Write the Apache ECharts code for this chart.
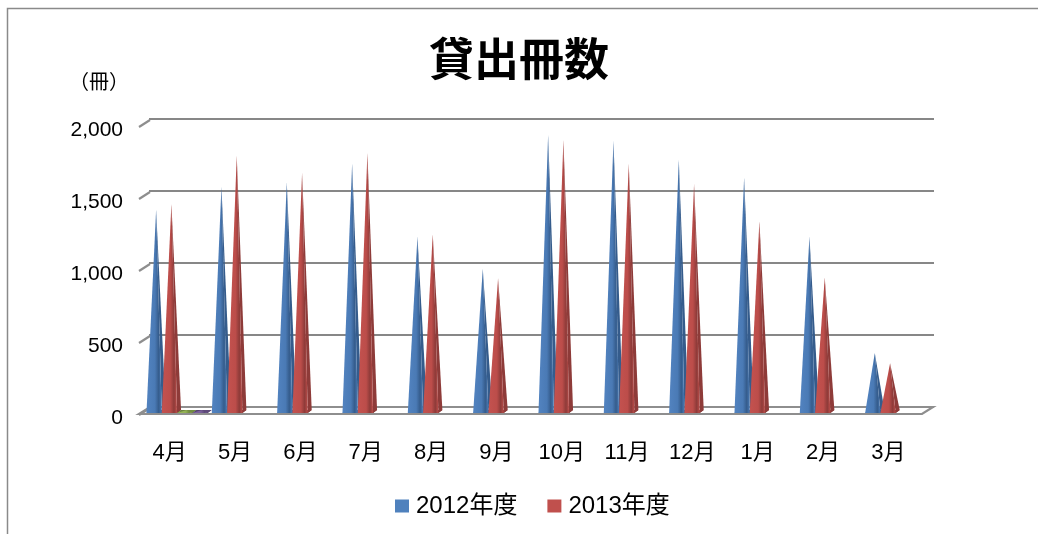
<!DOCTYPE html>
<html><head><meta charset="utf-8">
<script src="https://cdn.jsdelivr.net/npm/echarts@6/dist/echarts.min.js"></script>
<style>html,body{margin:0;padding:0;background:#fff}#c{width:1038px;height:534px}</style>
</head><body><div id="c"></div>
<script>
const categories = ['4月','5月','6月','7月','8月','9月','10月','11月','12月','1月','2月','3月'];
const s2012 = [1390, 1550, 1580, 1710, 1205, 980, 1910, 1870, 1740, 1615, 1205, 395];
const s2013 = [1430, 1765, 1645, 1785, 1220, 915, 1875, 1710, 1570, 1310, 920, 325];
const s3 = [0, null, null, null, null, null, null, null, null, null, null, null];
const s4 = [0, null, null, null, null, null, null, null, null, null, null, null];
const yTicks = [0, 500, 1000, 1500, 2000];

const FONT = '"Liberation Sans","Noto Sans CJK JP",sans-serif';
const DX = 11, DY = 7;

function pyramid(slot, front, mid, dark, side) {
  return function (params, api) {
    const v = api.value(1);
    if (v == null || isNaN(v)) return null;
    const i = api.value(0);
    const band = api.size([1, 0])[0];
    const c0 = api.coord([i, 0]);
    const cv = api.coord([i, v]);
    const bandStart = c0[0] - band / 2;
    const w = band * 0.234;
    const x0 = bandStart + band * 0.145 + slot * w;
    const by = c0[1] - 1;
    const ay = cv[1] - 4;
    const ax = x0 + w / 2 + 2;
    const sdx = 4, sdy = 3;
    const children = [
      { type: 'polygon', shape: { points: [[x0, by], [x0 + w, by], [x0 + w + sdx, by - sdy], [x0 + sdx, by - sdy]] },
        style: { fill: side } },
      { type: 'polygon', shape: { points: [[x0 + w, by], [x0 + w + sdx, by - sdy], [ax, ay]] },
        style: { fill: dark } },
      { type: 'polygon', shape: { points: [[x0, by], [x0 + w, by], [ax, ay]] },
        style: { fill: new echarts.graphic.LinearGradient(0, 0, 1, 0, [
          { offset: 0, color: front }, { offset: 0.55, color: mid }, { offset: 0.8, color: dark }, { offset: 1, color: mid }]) } }
    ];
    return { type: 'group', children };
  };
}

const chart = echarts.init(document.getElementById('c'), null, { renderer: 'canvas' });
const toData = arr => arr.map((v, i) => [categories[i], v]);

chart.setOption({
  backgroundColor: '#fff',
  animation: false,
  title: { text: '貸出冊数', left: 'center', top: 31,
    textStyle: { fontFamily: '"Noto Sans CJK JP",sans-serif', fontSize: 45, fontWeight: 'bold', color: '#000' } },
  legend: { data: ['2012年度', '2013年度'], top: 489, left: 390, icon: 'rect', itemWidth: 14, itemHeight: 13, itemGap: 30,
    textStyle: { fontFamily: FONT, fontSize: 24, color: '#000', padding: [0, 0, 0, 2] } },
  graphic: [
    { type: 'rect', shape: { x: 7.5, y: 8.5, width: 1100, height: 600 }, style: { fill: 'none', stroke: '#8a8a8a', lineWidth: 1.5 }, z: -10 },
    { type: 'text', left: 69, top: 71, style: { text: '（冊）', fontFamily: '"Noto Sans CJK JP",sans-serif', fontSize: 20, fill: '#000' } }
  ],
  grid: [
    { left: 137, right: 117, top: 126, bottom: 120 },
    { left: 149, right: 104, top: 119, bottom: 127 }
  ],
  xAxis: [
    { type: 'category', gridIndex: 0, data: categories, axisLine: { show: false }, axisTick: { show: false },
      axisLabel: { margin: 28, fontFamily: FONT, fontSize: 22, color: '#000' } },
    { type: 'category', gridIndex: 1, data: categories, show: false }
  ],
  yAxis: [
    { type: 'value', gridIndex: 0, min: 0, max: 2000, interval: 500, splitLine: { show: false },
      axisLine: { show: false }, axisTick: { show: false },
      axisLabel: { margin: 14, color: '#000',
        formatter: v => '{a|' + v.toLocaleString('en-US') + '}',
        rich: { a: { fontFamily: FONT, fontSize: 21, color: '#000', padding: [9, 0, 0, 0] } } } },
    { type: 'value', gridIndex: 1, min: 0, max: 2000, interval: 500,
      axisLine: { show: false }, axisTick: { show: false }, axisLabel: { show: false },
      splitLine: { show: true, lineStyle: { color: '#878787', width: 2.2 } } }
  ],
  series: [
    { type: 'custom', name: 'floor', xAxisIndex: 0, yAxisIndex: 0, z: 1, silent: true,
      data: [[categories[0], 0]],
      renderItem: function (params, api) {
        const cs = params.coordSys;
        const y0 = api.coord([0, 0])[1];
        return { type: 'polygon', shape: { points: [[cs.x + 2, y0], [cs.x + cs.width + 1, y0], [cs.x + cs.width + 1 + DX, y0 - DY], [cs.x + 2 + DX, y0 - DY]] },
          style: { fill: 'rgba(255,255,255,0)', stroke: '#8e8e8e', lineWidth: 2.2 } };
      } },
    { type: 'custom', name: 'stubs', xAxisIndex: 0, yAxisIndex: 0, z: 1, silent: true,
      data: yTicks.map(t => [categories[0], t]),
      renderItem: function (params, api) {
        const cs = params.coordSys;
        const y = api.coord([0, api.value(1)])[1] + 1;
        return { type: 'line', shape: { x1: cs.x + 2, y1: y, x2: cs.x + 2 + DX, y2: y - DY },
          style: { stroke: '#8e8e8e', lineWidth: 2.2 } };
      } },
    { type: 'custom', name: '2012年度', xAxisIndex: 0, yAxisIndex: 0, z: 3, itemStyle: { color: '#4F81BD' },
      data: toData(s2012), renderItem: pyramid(0, '#5283C0', '#4A7AB5', '#355C8C', '#2E4F78') },
    { type: 'custom', name: '2013年度', xAxisIndex: 0, yAxisIndex: 0, z: 3, itemStyle: { color: '#C0504D' },
      data: toData(s2013), renderItem: pyramid(1, '#C4524F', '#BC4D4A', '#8E3B39', '#7A2F2D') },
    { type: 'custom', name: 's3', xAxisIndex: 0, yAxisIndex: 0, z: 3, itemStyle: { color: '#9BBB59' },
      data: toData(s3), renderItem: pyramid(2, '#9BBB59', '#93B253', '#728C42', '#6A8240') },
    { type: 'custom', name: 's4', xAxisIndex: 0, yAxisIndex: 0, z: 3, itemStyle: { color: '#8064A2' },
      data: toData(s4), renderItem: pyramid(3, '#8064A2', '#7A5F9B', '#5E4A7A', '#54426E') }
  ]
});
</script></body></html>
